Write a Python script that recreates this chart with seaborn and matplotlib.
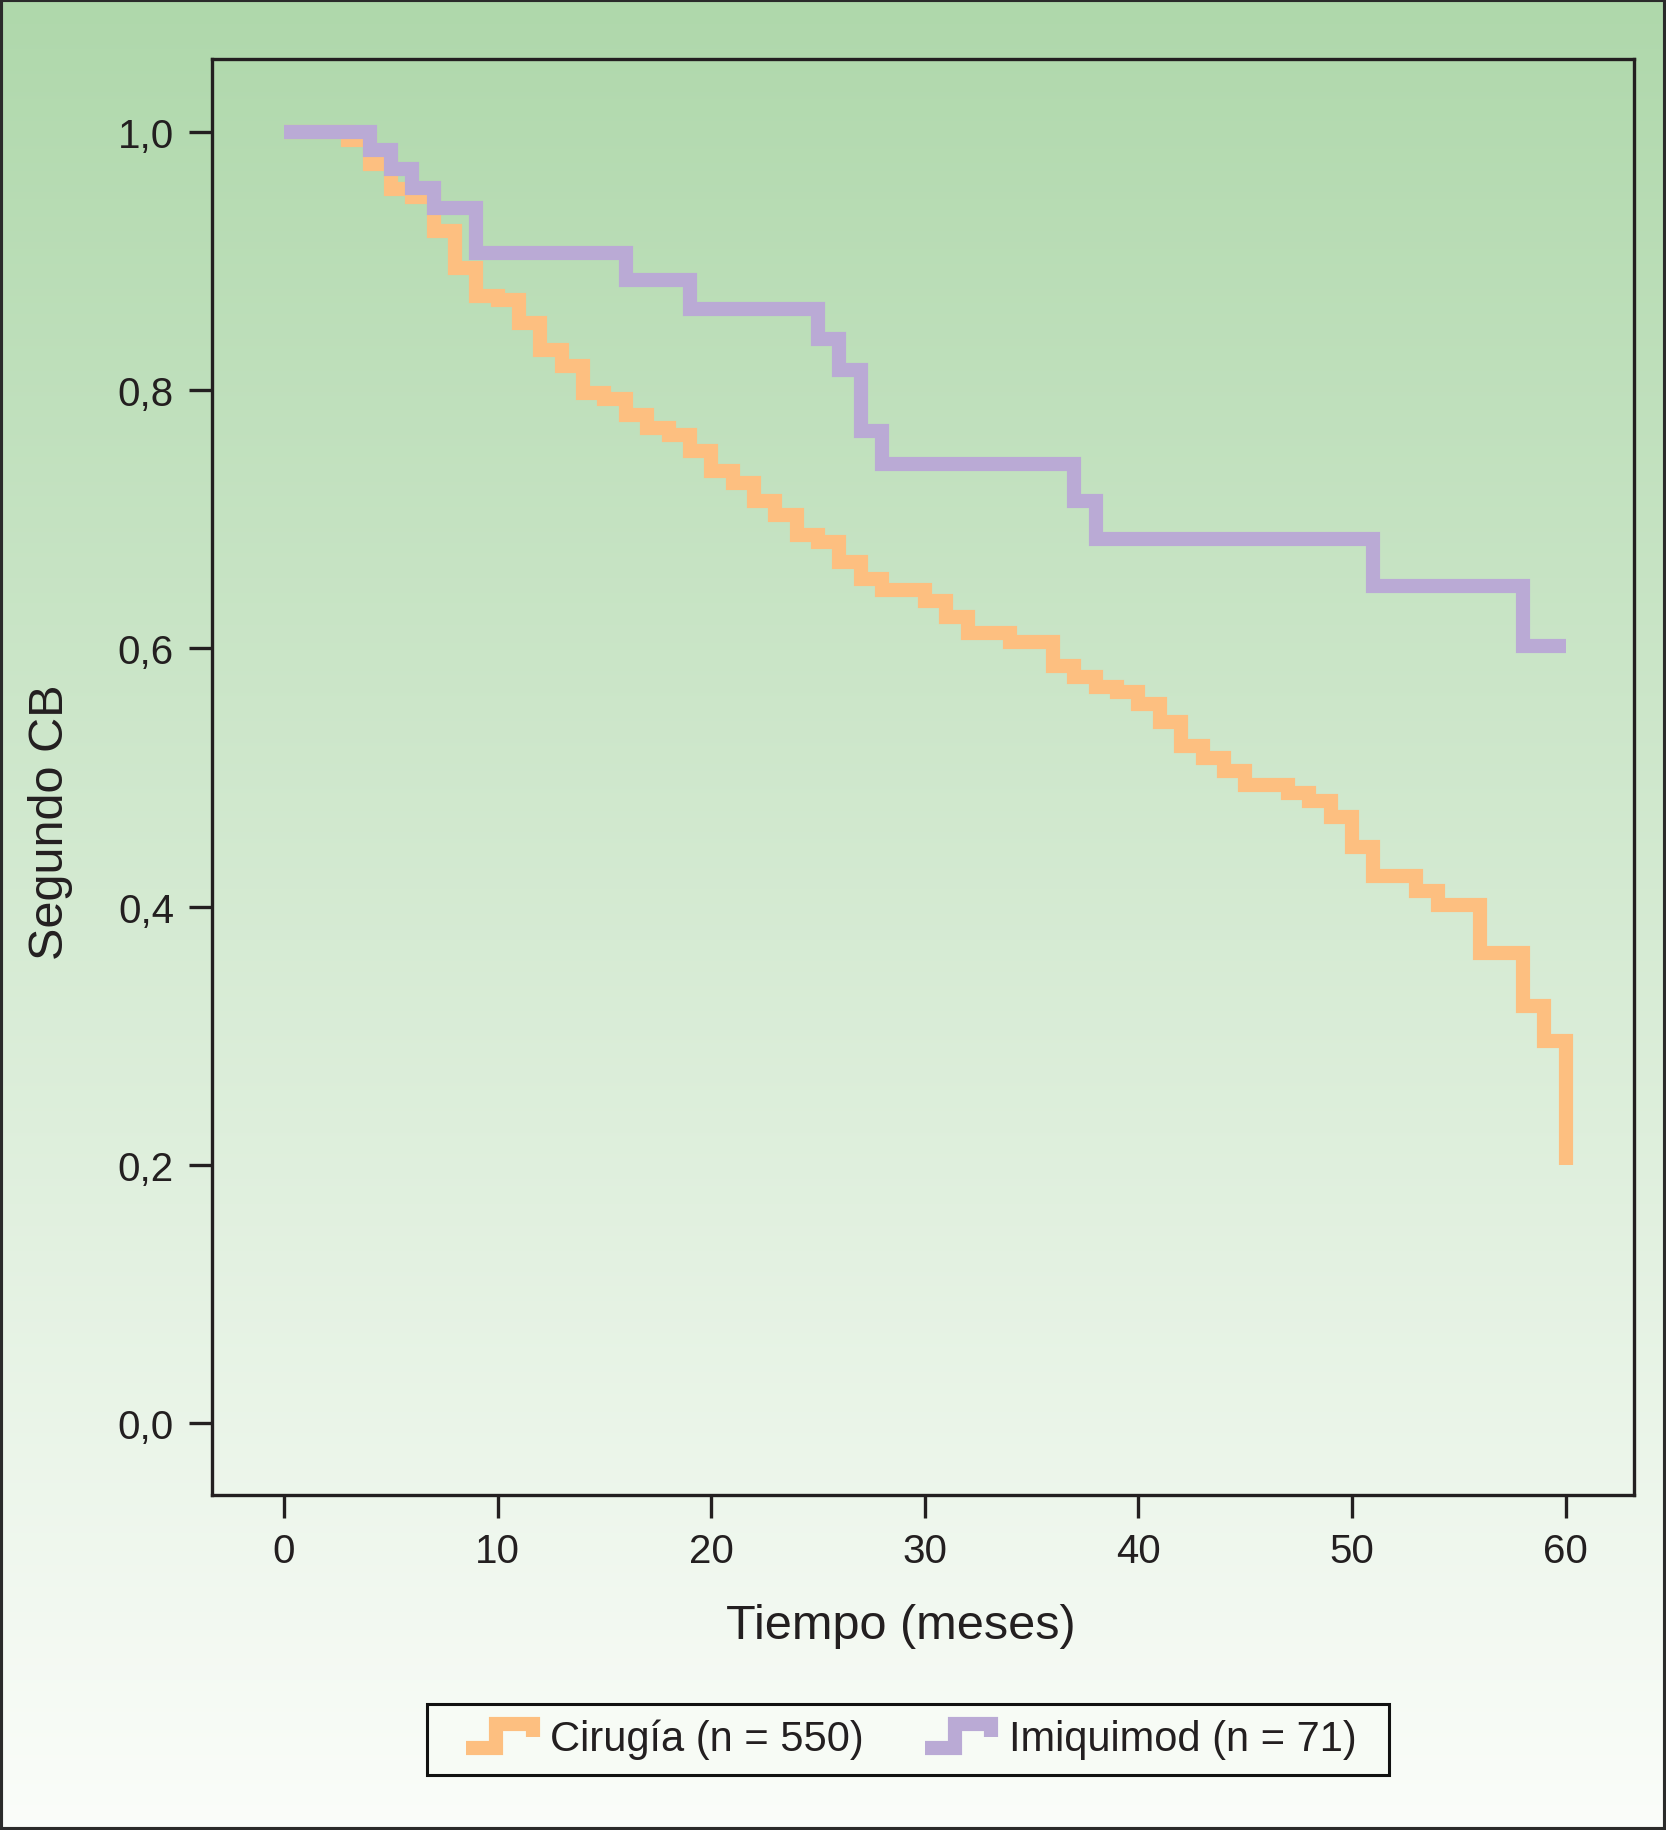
import numpy as np
import pandas as pd
import matplotlib
matplotlib.use("Agg")
import matplotlib.pyplot as plt
import seaborn as sns
from matplotlib.legend_handler import HandlerBase
from matplotlib.lines import Line2D
from matplotlib.patches import Rectangle

# ---------------- data ----------------
cirugia_t = [0, 3, 4, 5, 6, 7, 8, 9, 10, 11, 12, 13, 14, 15, 16, 17, 18, 19, 20, 21,
             22, 23, 24, 25, 26, 27, 28, 30, 31, 32, 34, 36, 37, 38, 39, 40, 41, 42,
             43, 44, 45, 47, 48, 49, 50, 51, 53, 54, 56, 58, 59, 60]
cirugia_s = [1.000, 0.994, 0.975, 0.956, 0.950, 0.923, 0.895, 0.873, 0.870, 0.852,
             0.831, 0.819, 0.798, 0.793, 0.781, 0.771, 0.765, 0.753, 0.737, 0.728,
             0.714, 0.703, 0.688, 0.682, 0.667, 0.654, 0.645, 0.637, 0.624, 0.612,
             0.605, 0.586, 0.578, 0.570, 0.566, 0.557, 0.543, 0.524, 0.515, 0.505,
             0.494, 0.488, 0.482, 0.469, 0.446, 0.424, 0.412, 0.401, 0.364, 0.323,
             0.296, 0.200]

imiquimod_t = [0, 4, 5, 6, 7, 9, 16, 19, 25, 26, 27, 28, 37, 38, 51, 58, 60]
imiquimod_s = [1.000, 0.986, 0.971, 0.957, 0.941, 0.906, 0.885, 0.863, 0.840, 0.816,
               0.768, 0.743, 0.714, 0.685, 0.648, 0.602, 0.602]

groups = ["Cirugía", "Imiquimod"]
legend_labels = ["Cirugía (n = 550)", "Imiquimod (n = 71)"]
colors = ["#FDBF80", "#BAAAD5"]

x_ticks = [0, 10, 20, 30, 40, 50, 60]
y_ticks = [0.0, 0.2, 0.4, 0.6, 0.8, 1.0]
y_ticklabels = ["0,0", "0,2", "0,4", "0,6", "0,8", "1,0"]

df = pd.concat([
    pd.DataFrame({"t": cirugia_t, "s": cirugia_s, "grupo": groups[0]}),
    pd.DataFrame({"t": imiquimod_t, "s": imiquimod_s, "grupo": groups[1]}),
], ignore_index=True)

# ---------------- style ----------------
sns.set_style("ticks")
plt.rcParams["font.family"] = ["Liberation Sans", "DejaVu Sans"]
ink = "#231F20"

fig = plt.figure(figsize=(16.66, 18.31), dpi=100)

# gradient background
bg = fig.add_axes([0, 0, 1, 1], zorder=-5)
top = np.array([175, 216, 171]) / 255.0
bot = np.array([251, 253, 250]) / 255.0
frac = np.linspace(0, 1, 512)[:, None]
grad = (top[None, :] * (1 - frac) + bot[None, :] * frac)[:, None, :]
bg.imshow(grad, aspect="auto", extent=[0, 1, 0, 1], origin="upper")
bg.set_axis_off()

ax = fig.add_axes([0.1273, 0.1830, 0.8535, 0.7842])
ax.set_facecolor("none")

sns.lineplot(data=df, x="t", y="s", hue="grupo", hue_order=groups,
             palette=colors, estimator=None, sort=False,
             drawstyle="steps-post", linewidth=10.2,
             solid_joinstyle="miter", solid_capstyle="butt",
             legend=False, ax=ax)

ax.set_xlim(-3.37, 63.2)
ax.set_ylim(-0.0558, 1.0565)
ax.set_xticks(x_ticks)
ax.set_xticklabels([str(v) for v in x_ticks])
ax.set_yticks(y_ticks)
ax.set_yticklabels(y_ticklabels)

for sp in ax.spines.values():
    sp.set_linewidth(2.4)
    sp.set_color(ink)
    sp.set_visible(True)

ax.tick_params(axis="both", direction="out", length=16.5, width=2.4,
               color=ink, labelsize=29, labelcolor=ink)
ax.tick_params(axis="x", pad=10)
ax.tick_params(axis="y", pad=11)

ax.set_xlabel("Tiempo (meses)", fontsize=35, color=ink)
ax.xaxis.set_label_coords(0.4845, -0.0996)
ax.xaxis.label.set_va("baseline")
ax.set_ylabel("Segundo CB", fontsize=35, color=ink)
ax.yaxis.set_label_coords(-0.1048, 0.469)
ax.yaxis.label.set_va("baseline")


# ---------------- legend with step-shaped handles ----------------
class StepHandler(HandlerBase):
    def create_artists(self, legend, orig_handle, xdescent, ydescent,
                       width, height, fontsize, trans):
        x0, y0 = -xdescent, -ydescent
        xs = [x0, x0 + 0.45 * width, x0 + 0.45 * width, x0 + width, x0 + width]
        ys = [y0 + 0.12 * height, y0 + 0.12 * height, y0 + 0.85 * height,
              y0 + 0.85 * height, y0 + 0.45 * height]
        ln = Line2D(xs, ys, color=orig_handle.get_color(), linewidth=10.2,
                    solid_joinstyle="miter", solid_capstyle="butt")
        ln.set_transform(trans)
        return [ln]


handles = [Line2D([], [], color=c) for c in colors]
leg = fig.legend(handles, legend_labels, loc="center",
                 bbox_to_anchor=(0.547, 0.0497), ncol=2, frameon=False,
                 fontsize=30, handlelength=1.6, handleheight=0.85,
                 handletextpad=0.42, columnspacing=1.45,
                 handler_map={Line2D: StepHandler()})
for t in leg.get_texts():
    t.set_color(ink)

fig.patches.append(Rectangle((0.2563, 0.0300), 0.5774, 0.0388,
                             transform=fig.transFigure, facecolor="#F7FBF5",
                             edgecolor="#111111", linewidth=2.2, zorder=1))
# outer frame
fig.patches.append(Rectangle((0, 0), 1, 1, transform=fig.transFigure,
                             facecolor="none", edgecolor="#2B2B2B",
                             linewidth=4.4, zorder=10))

fig.savefig("out.png", dpi=100)
